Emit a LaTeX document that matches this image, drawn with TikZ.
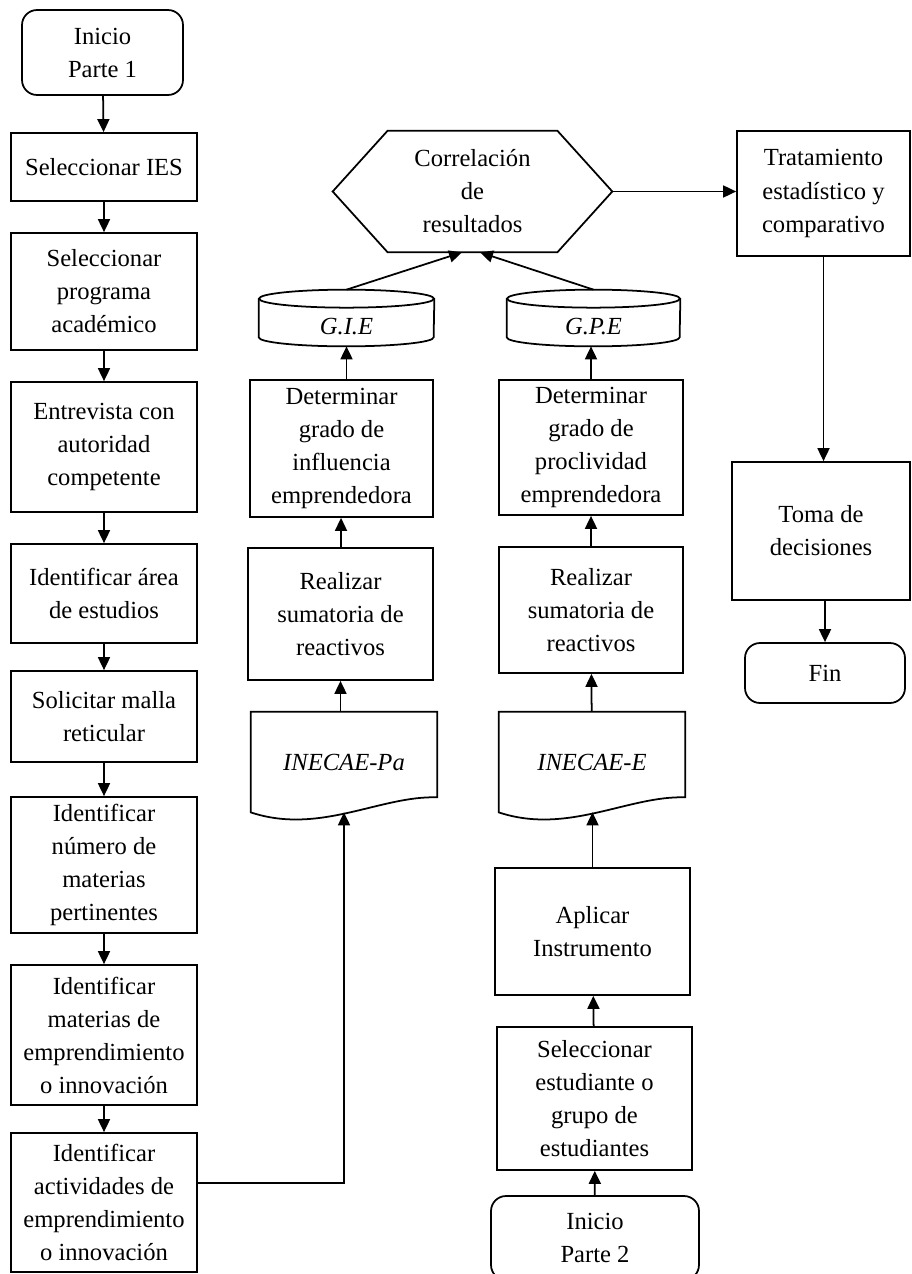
\documentclass[tikz,border=0pt]{standalone}
\usepackage{fontspec}
\setmainfont{Liberation Serif}
\usetikzlibrary{arrows.meta}

\begin{document}
\begin{tikzpicture}[x=0.02cm,y=-0.02cm,font=\fontsize{14}{18.8}\selectfont,
    proc/.style={draw,line width=1pt,align=center,inner sep=0pt,minimum width=3.72cm},
    term/.style={draw,line width=1pt,align=center,inner sep=0pt,rounded corners=0.3cm},
    plain/.style={align=center,inner sep=0pt},
    flecha/.style={line width=1pt,-{Triangle[length=0.26cm,width=0.24cm]}}]
  \useasboundingbox (0,0) rectangle (912,1274);

  % parte 1
  \node[term,minimum width=3.22cm,minimum height=1.7cm] (ini1) at (102.5,52.5) {Inicio\\Parte 1};
  \node[proc,minimum height=1.36cm] (ies)   at (104,167)    {Seleccionar IES};
  \node[proc,minimum height=2.34cm] (prog)  at (104,291.5)  {Seleccionar\\programa\\académico};
  \node[proc,minimum height=2.6cm]  (entr)  at (104,447)    {Entrevista con\\autoridad\\competente};
  \node[proc,minimum height=1.98cm] (area)  at (104,593.5)  {Identificar área\\de estudios};
  \node[proc,minimum height=1.82cm] (malla) at (104,716.5)  {Solicitar malla\\reticular};
  \node[proc,minimum height=2.72cm] (num)   at (104,865)    {Identificar\\número de\\materias\\pertinentes};
  \node[proc,minimum height=2.8cm]  (mat)   at (104,1035)   {Identificar\\materias de\\emprendimiento\\o innovación};
  \node[proc,minimum height=2.78cm] (act)   at (104,1202.5) {Identificar\\actividades de\\emprendimiento\\o innovación};

  \draw[flecha] (ini1) -- (ies);
  \draw[flecha] (ies) -- (prog);
  \draw[flecha] (prog) -- (entr);
  \draw[flecha] (entr) -- (area);
  \draw[flecha] (area) -- (malla);
  \draw[flecha] (malla) -- (num);
  \draw[flecha] (num) -- (mat);
  \draw[flecha] (mat) -- (act);

  % influencia
  \node[plain,minimum width=3.72cm,minimum height=2cm] (pa) at (344,762) {\itshape INECAE-Pa};
  \draw[line width=1pt] (pa.north west) -- (pa.north east) -- ([yshift=0.3cm]pa.south east)
    .. controls ([xshift=-1.14cm,yshift=0.34cm]pa.south east) and ([xshift=1.38cm,yshift=-0.46cm]pa.south west) .. (pa.south west) -- cycle;
  \node[proc,minimum width=3.7cm,minimum height=2.64cm]  (sum1) at (340.5,614)   {Realizar\\sumatoria de\\reactivos};
  \node[proc,minimum width=3.66cm,minimum height=2.74cm] (det1) at (341.5,448.5) {Determinar\\grado de\\influencia\\emprendedora};
  \node[plain,minimum width=3.5cm,minimum height=0.76cm] (gie) at (346.5,327) {\itshape G.I.E};
  \draw[line width=1pt] ([yshift=0.18cm]gie.north west) -- ([yshift=0.18cm]gie.south west)
    arc[start angle=180,end angle=360,x radius=1.75cm,y radius=0.18cm] -- ([yshift=0.18cm]gie.north east);
  \draw[line width=1pt] ([yshift=0.18cm]gie.north) ellipse[x radius=1.75cm,y radius=0.18cm];
  \coordinate (gietop) at ([yshift=0.36cm]gie.north);

  \draw[flecha] ([yshift=0.39cm]act.east) -| (pa.south);
  \draw[flecha] (sum1.south |- pa.north) -- (sum1.south);
  \draw[flecha] (sum1) -- (det1);
  \draw[flecha] (gie.south |- det1.north) -- (gie.south);

  % parte 2
  \node[term,minimum width=4.16cm,minimum height=1.68cm] (ini2) at (595,1238) {Inicio\\Parte 2};
  \node[proc,minimum width=3.9cm,minimum height=2.86cm] (est) at (594.5,1098.5) {Seleccionar\\estudiante o\\grupo de\\estudiantes};
  \node[proc,minimum width=3.9cm,minimum height=2.54cm] (apl) at (592.5,931.5) {Aplicar\\Instrumento};
  \node[plain,minimum width=3.72cm,minimum height=2cm] (pe) at (592,762) {\itshape INECAE-E};
  \draw[line width=1pt] (pe.north west) -- (pe.north east) -- ([yshift=0.3cm]pe.south east)
    .. controls ([xshift=-1.14cm,yshift=0.34cm]pe.south east) and ([xshift=1.38cm,yshift=-0.46cm]pe.south west) .. (pe.south west) -- cycle;
  \node[proc,minimum width=3.68cm,minimum height=2.52cm] (sum2) at (591,610)   {Realizar\\sumatoria de\\reactivos};
  \node[proc,minimum width=3.68cm,minimum height=2.7cm]  (det2) at (591,447.5) {Determinar\\grado de\\proclividad\\emprendedora};
  \node[plain,minimum width=3.46cm,minimum height=0.76cm] (gpe) at (593.5,327) {\itshape G.P.E};
  \draw[line width=1pt] ([yshift=0.18cm]gpe.north west) -- ([yshift=0.18cm]gpe.south west)
    arc[start angle=180,end angle=360,x radius=1.73cm,y radius=0.18cm] -- ([yshift=0.18cm]gpe.north east);
  \draw[line width=1pt] ([yshift=0.18cm]gpe.north) ellipse[x radius=1.73cm,y radius=0.18cm];
  \coordinate (gpetop) at ([yshift=0.36cm]gpe.north);

  \draw[flecha] (ini2) -- (est);
  \draw[flecha] (est) -- (apl);
  \draw[flecha] (apl.north) -- (apl.north |- pe.south);
  \draw[flecha] (pe) -- (sum2);
  \draw[flecha] (sum2) -- (det2);
  \draw[flecha] (det2.north) -- (det2.north |- gpe.south);

  % resultados
  \node[plain,minimum width=5.58cm,minimum height=2.42cm] (corr) at (472.5,191.5) {Correlación\\de\\resultados};
  \draw[line width=1pt] (corr.west) -- ([xshift=1.1cm]corr.north west) -- ([xshift=-1.1cm]corr.north east)
    -- (corr.east) -- ([xshift=-1.1cm]corr.south east) -- ([xshift=1.1cm]corr.south west) -- cycle;
  \draw[flecha] (gietop) -- ([xshift=-0.21cm]corr.south);
  \draw[flecha] (gpetop) -- ([xshift=0.15cm]corr.south);

  \node[proc,minimum width=3.46cm,minimum height=2.5cm]  (trat) at (823.5,193.5) {Tratamiento\\estadístico y\\comparativo};
  \node[proc,minimum width=3.56cm,minimum height=2.76cm] (toma) at (821,531)    {Toma de\\decisiones};
  \node[term,minimum width=3.2cm,minimum height=1.2cm]   (fin)  at (825,673)    {Fin};

  \draw[flecha] (corr.east) -- (corr.east -| trat.west);
  \draw[flecha] (trat.south) -- (trat.south |- toma.north);
  \draw[flecha] (fin.north |- toma.south) -- (fin.north);
\end{tikzpicture}
\end{document}
